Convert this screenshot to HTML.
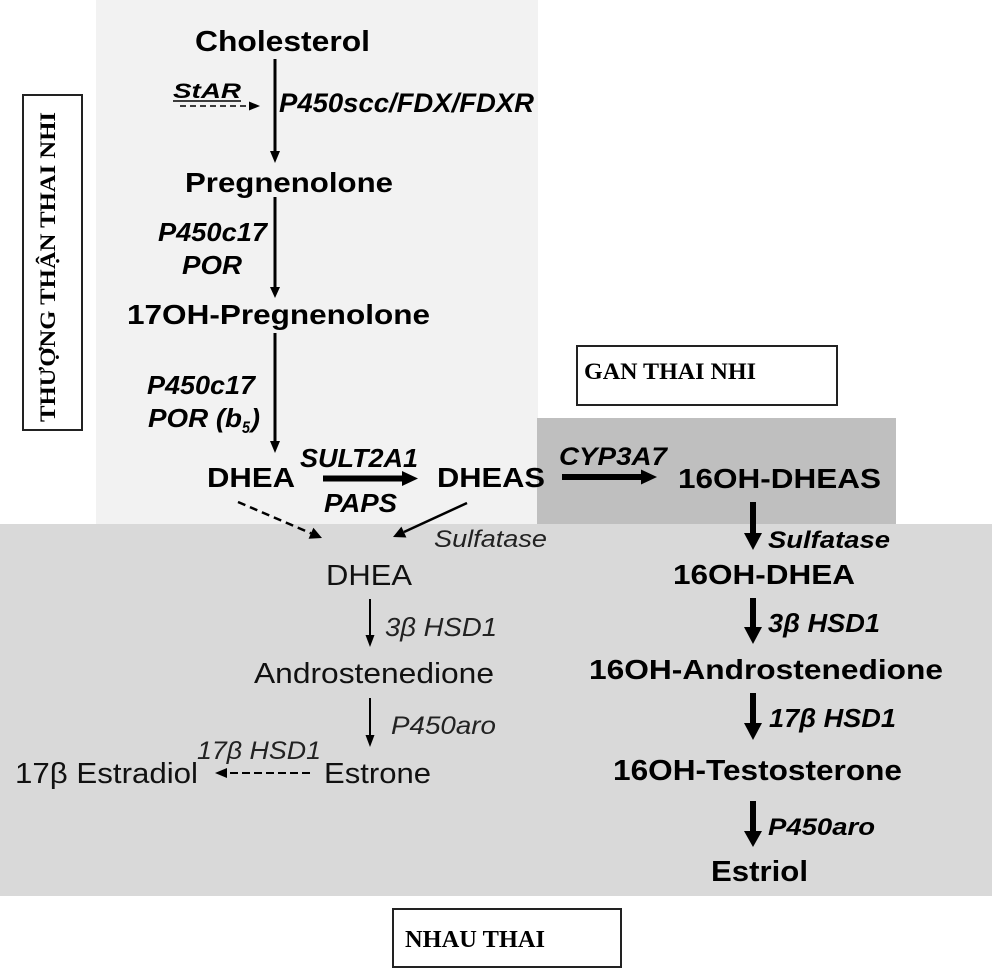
<!DOCTYPE html>
<html>
<head>
<meta charset="utf-8">
<style>
  html, body { margin:0; padding:0; background:#ffffff; }
  svg { display:block; }
  .b { font-family:"Liberation Sans", Arial, sans-serif; font-weight:bold; fill:#000; }
  .bi { font-family:"Liberation Sans", Arial, sans-serif; font-weight:bold; font-style:italic; fill:#000; }
  .r { font-family:"Liberation Sans", Arial, sans-serif; fill:#111; }
  .ri { font-family:"Liberation Sans", Arial, sans-serif; font-style:italic; fill:#222; }
  .s { font-family:"Liberation Serif", "Times New Roman", serif; font-weight:bold; fill:#000; }
</style>
</head>
<body>
<svg width="992" height="969" viewBox="0 0 992 969" xmlns="http://www.w3.org/2000/svg">
  <!-- panels -->
  <rect x="0" y="0" width="992" height="969" fill="#ffffff"/>
  <rect x="96" y="0" width="442" height="526" fill="#f2f2f2"/>
  <rect x="537" y="418" width="359" height="107" fill="#bfbfbf"/>
  <rect x="0" y="524" width="992" height="372" fill="#d9d9d9"/>
  <rect x="537" y="418" width="359" height="106" fill="#bfbfbf"/>

  <!-- label boxes -->
  <rect x="23" y="95" width="59" height="335" fill="#ffffff" stroke="#222" stroke-width="2"/>
  <text class="s" font-size="22" transform="translate(55,422) rotate(-90)" x="0" y="0" textLength="310" lengthAdjust="spacingAndGlyphs">THƯỢNG THẬN THAI NHI</text>

  <rect x="577" y="346" width="260" height="59" fill="#ffffff" stroke="#222" stroke-width="2"/>
  <text class="s" font-size="23" x="584" y="379" textLength="172" lengthAdjust="spacingAndGlyphs">GAN THAI NHI</text>

  <rect x="393" y="909" width="228" height="58" fill="#ffffff" stroke="#222" stroke-width="2"/>
  <text class="s" font-size="24" x="405" y="947" textLength="140" lengthAdjust="spacingAndGlyphs">NHAU THAI</text>

  <!-- top chain -->
  <text class="b" font-size="29" x="195" y="51" textLength="175" lengthAdjust="spacingAndGlyphs">Cholesterol</text>
  <text class="bi" font-size="21" x="173" y="98" textLength="68" lengthAdjust="spacingAndGlyphs">StAR</text>
  <line x1="173" y1="101" x2="241" y2="101" stroke="#000" stroke-width="1.5"/>
  <line x1="180" y1="106" x2="249" y2="106" stroke="#000" stroke-width="1.5" stroke-dasharray="6,4"/>
  <polygon points="249,101.5 249,110.5 260,106" fill="#000"/>

  <line x1="275" y1="59" x2="275" y2="152" stroke="#000" stroke-width="3"/>
  <polygon points="270,151 280,151 275,163" fill="#000"/>
  <text class="bi" font-size="27" x="279" y="112" textLength="255" lengthAdjust="spacingAndGlyphs">P450scc/FDX/FDXR</text>

  <text class="b" font-size="28" x="185" y="192" textLength="208" lengthAdjust="spacingAndGlyphs">Pregnenolone</text>
  <line x1="275" y1="197" x2="275" y2="288" stroke="#000" stroke-width="3"/>
  <polygon points="270,287 280,287 275,298" fill="#000"/>
  <text class="bi" font-size="26" x="158" y="241" textLength="109" lengthAdjust="spacingAndGlyphs">P450c17</text>
  <text class="bi" font-size="26" x="182" y="274" textLength="60" lengthAdjust="spacingAndGlyphs">POR</text>

  <text class="b" font-size="28" x="127" y="324" textLength="303" lengthAdjust="spacingAndGlyphs">17OH-Pregnenolone</text>
  <line x1="275" y1="333" x2="275" y2="442" stroke="#000" stroke-width="3"/>
  <polygon points="270,441 280,441 275,453" fill="#000"/>
  <text class="bi" font-size="26" x="147" y="394" textLength="108" lengthAdjust="spacingAndGlyphs">P450c17</text>
  <text class="bi" font-size="26" x="148" y="427" textLength="94" lengthAdjust="spacingAndGlyphs">POR (b</text>
  <text class="bi" font-size="17" x="242" y="433" textLength="8" lengthAdjust="spacingAndGlyphs">5</text>
  <text class="bi" font-size="26" x="251" y="427" textLength="9" lengthAdjust="spacingAndGlyphs">)</text>

  <!-- DHEA row -->
  <text class="b" font-size="28" x="207" y="487" textLength="88" lengthAdjust="spacingAndGlyphs">DHEA</text>
  <text class="bi" font-size="26" x="300" y="467" textLength="118" lengthAdjust="spacingAndGlyphs">SULT2A1</text>
  <rect x="323" y="475.5" width="80" height="6" fill="#000"/>
  <polygon points="402,471 402,486 418,478.5" fill="#000"/>
  <text class="bi" font-size="26" x="324" y="512" textLength="73" lengthAdjust="spacingAndGlyphs">PAPS</text>
  <text class="b" font-size="28" x="437" y="487" textLength="108" lengthAdjust="spacingAndGlyphs">DHEAS</text>

  <text class="bi" font-size="25" x="559" y="465" textLength="108" lengthAdjust="spacingAndGlyphs">CYP3A7</text>
  <rect x="562" y="474" width="80" height="6" fill="#000"/>
  <polygon points="641,469.5 641,484.5 657,477" fill="#000"/>
  <text class="b" font-size="28" x="678" y="488" textLength="203" lengthAdjust="spacingAndGlyphs">16OH-DHEAS</text>

  <!-- converging arrows -->
  <line x1="238" y1="502" x2="311" y2="533.3" stroke="#000" stroke-width="2.5" stroke-dasharray="8,5"/>
  <polygon points="322,538 308.6,538.8 313.4,527.8" fill="#000"/>
  <line x1="467" y1="503" x2="404" y2="532" stroke="#000" stroke-width="2.5"/>
  <polygon points="393,537 401.4,526.6 406.4,537.5" fill="#000"/>
  <text class="ri" font-size="24" x="434" y="547" textLength="113" lengthAdjust="spacingAndGlyphs">Sulfatase</text>

  <!-- lower-left chain -->
  <text class="r" font-size="29" x="326" y="585" textLength="86" lengthAdjust="spacingAndGlyphs">DHEA</text>
  <line x1="370" y1="599" x2="370" y2="636" stroke="#000" stroke-width="2"/>
  <polygon points="365.5,635 374.5,635 370,647" fill="#000"/>
  <text class="ri" font-size="26" x="385" y="636" textLength="112" lengthAdjust="spacingAndGlyphs">3β HSD1</text>
  <text class="r" font-size="29" x="254" y="683" textLength="240" lengthAdjust="spacingAndGlyphs">Androstenedione</text>
  <line x1="370" y1="698" x2="370" y2="736" stroke="#000" stroke-width="2"/>
  <polygon points="365.5,735 374.5,735 370,747" fill="#000"/>
  <text class="ri" font-size="25" x="391" y="734" textLength="105" lengthAdjust="spacingAndGlyphs">P450aro</text>
  <text class="ri" font-size="25" x="197" y="759" textLength="124" lengthAdjust="spacingAndGlyphs">17β HSD1</text>
  <text class="r" font-size="29" x="15" y="783" textLength="183" lengthAdjust="spacingAndGlyphs">17β Estradiol</text>
  <line x1="310" y1="773" x2="226" y2="773" stroke="#000" stroke-width="2" stroke-dasharray="8,4"/>
  <polygon points="227,768 227,778 215,773" fill="#000"/>
  <text class="r" font-size="29" x="324" y="783" textLength="107" lengthAdjust="spacingAndGlyphs">Estrone</text>

  <!-- right chain -->
  <rect x="750" y="502" width="6" height="32" fill="#000"/>
  <polygon points="744,533 762,533 753,550" fill="#000"/>
  <text class="bi" font-size="24" x="768" y="548" textLength="122" lengthAdjust="spacingAndGlyphs">Sulfatase</text>
  <text class="b" font-size="28" x="673" y="584" textLength="182" lengthAdjust="spacingAndGlyphs">16OH-DHEA</text>

  <rect x="750" y="598" width="6" height="30" fill="#000"/>
  <polygon points="744,627 762,627 753,644" fill="#000"/>
  <text class="bi" font-size="26" x="768" y="632" textLength="112" lengthAdjust="spacingAndGlyphs">3β HSD1</text>
  <text class="b" font-size="28" x="589" y="679" textLength="354" lengthAdjust="spacingAndGlyphs">16OH-Androstenedione</text>

  <rect x="750" y="693" width="6" height="31" fill="#000"/>
  <polygon points="744,723 762,723 753,740" fill="#000"/>
  <text class="bi" font-size="26" x="769" y="727" textLength="127" lengthAdjust="spacingAndGlyphs">17β HSD1</text>
  <text class="b" font-size="29" x="613" y="780" textLength="289" lengthAdjust="spacingAndGlyphs">16OH-Testosterone</text>

  <rect x="750" y="801" width="6" height="31" fill="#000"/>
  <polygon points="744,831 762,831 753,847" fill="#000"/>
  <text class="bi" font-size="24" x="768" y="835" textLength="107" lengthAdjust="spacingAndGlyphs">P450aro</text>
  <text class="b" font-size="29" x="711" y="881" textLength="97" lengthAdjust="spacingAndGlyphs">Estriol</text>
</svg>
</body>
</html>
